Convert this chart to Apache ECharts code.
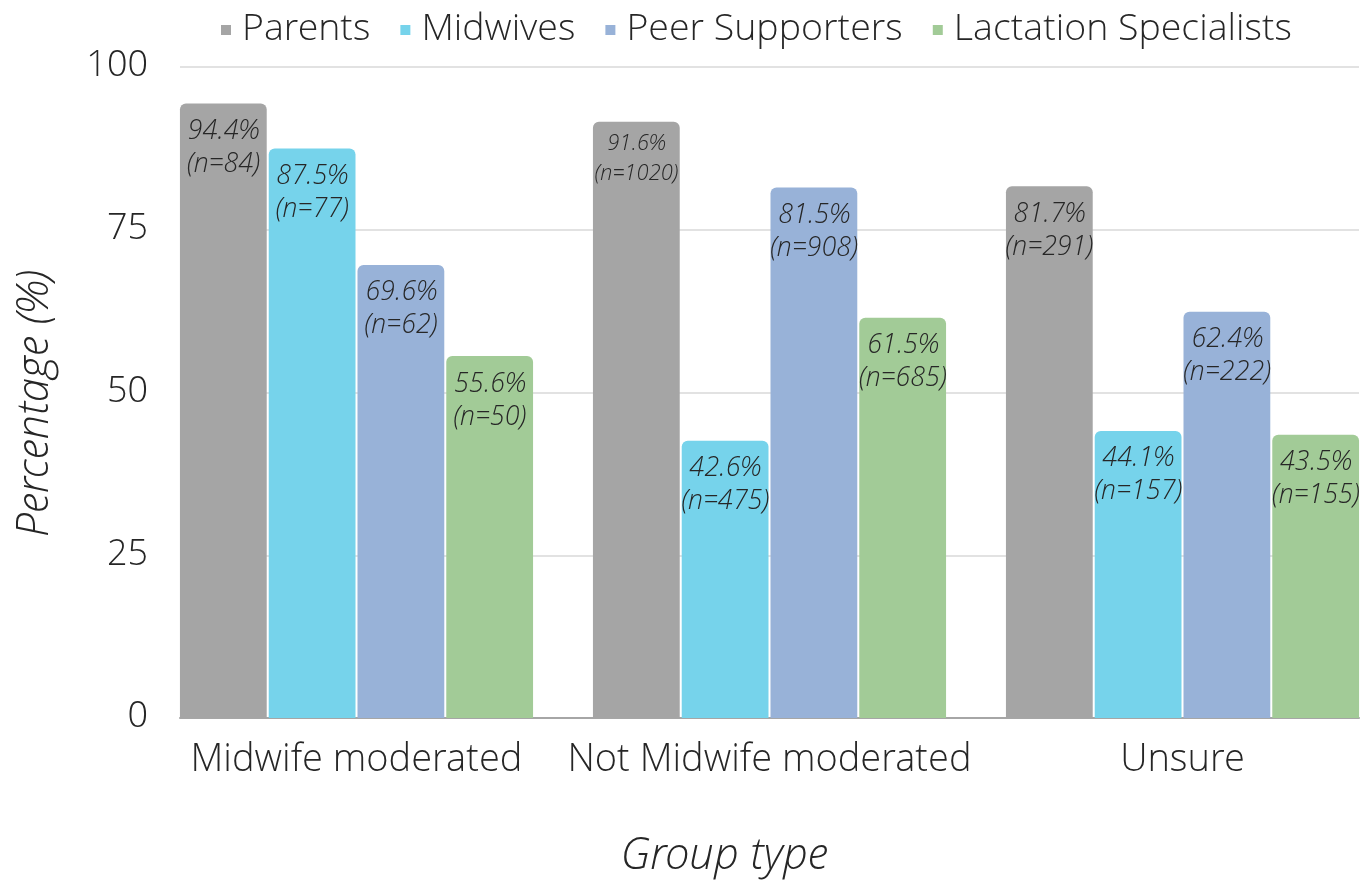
<!DOCTYPE html>
<html>
<head>
<meta charset="utf-8">
<script src="https://cdn.jsdelivr.net/npm/echarts@6/dist/echarts.min.js"></script>
<style>
  html, body { margin: 0; padding: 0; background: #fff; }
  #chart { width: 1367px; height: 883px; }
</style>
</head>
<body>
<div id="chart"></div>
<script>
var groupTypes = ['Midwife moderated', 'Not Midwife moderated', 'Unsure'];
var seriesNames = ['Parents', 'Midwives', 'Peer Supporters', 'Lactation Specialists'];
var seriesColors = ['#a5a5a5', '#76d3eb', '#98b2d8', '#a2cb97'];

// percentages per series, one value per group type
var parentsPct = [94.4, 91.6, 81.7];
var midwivesPct = [87.5, 42.6, 44.1];
var peerPct = [69.6, 81.5, 62.4];
var lactationPct = [55.6, 61.5, 43.5];

// respondent counts shown under the percentages
var parentsN = [84, 1020, 291];
var midwivesN = [77, 475, 157];
var peerN = [62, 908, 222];
var lactationN = [50, 685, 155];

var yTicks = [0, 25, 50, 75, 100];

var pctData = [parentsPct, midwivesPct, peerPct, lactationPct];
var nData = [parentsN, midwivesN, peerN, lactationN];

var font = '"Open Sans Light", "Open Sans", sans-serif';
var textColor = '#262626';

var chartDom = document.getElementById('chart');
var myChart = echarts.init(chartDom);

var series = seriesNames.map(function (name, i) {
  return {
    name: name,
    type: 'bar',
    xAxisIndex: 1,
    yAxisIndex: 1,
    barCategoryGap: '14.5%',
    barGap: '2.3%',
    itemStyle: { color: seriesColors[i], borderRadius: [6, 6, 0, 0] },
    data: pctData[i].map(function (v, j) {
      var n = nData[i][j];
      // long counts get a smaller label so they fit inside the bar
      var small = String(n).length > 3;
      return {
        value: v,
        label: {
          fontSize: small ? 22 : 27,
          lineHeight: small ? 30 : 33,
          distance: small ? 8 : 12
        },
        n: n
      };
    }),
    label: {
      show: true,
      position: 'insideTop',
      distance: 12,
      fontFamily: font,
      fontWeight: 300,
      fontStyle: 'italic',
      color: textColor,
      formatter: function (p) {
        return p.value.toFixed(1) + '%\n(n=' + p.data.n + ')';
      }
    }
  };
});

var option = {
  animation: false,
  textStyle: { fontFamily: font },
  legend: {
    data: seriesNames,
    top: 6,
    left: 216,
    icon: 'rect',
    itemWidth: 10,
    itemHeight: 10,
    itemGap: 30,
    textStyle: {
      fontFamily: font, fontWeight: 300, fontSize: 37.5, color: textColor,
      padding: [0, 0, 0, 6]
    }
  },
  grid: [
    { left: 180, right: 8, top: 67, bottom: 165, outerBoundsMode: 'none' },
    { left: 150, width: 1239, top: 67, bottom: 165, outerBoundsMode: 'none' }
  ],
  xAxis: [
    {
      gridIndex: 0,
      type: 'value',
      min: 0,
      max: 1,
      axisLine: { show: true, lineStyle: { color: '#a6a6a6', width: 2 } },
      axisTick: { show: false },
      axisLabel: { show: false },
      splitLine: { show: false }
    },
    {
      gridIndex: 1,
      type: 'category',
      data: groupTypes,
      axisLine: { show: false },
      axisTick: { show: false },
      axisLabel: {
        interval: 0, margin: 24,
        fontFamily: font, fontWeight: 300, fontSize: 38, color: textColor
      },
      name: 'Group type',
      nameLocation: 'middle',
      nameGap: 118,
      nameTextStyle: {
        fontFamily: font, fontWeight: 300, fontStyle: 'italic', fontSize: 44,
        color: textColor, padding: [0, 91, 0, 0]
      }
    }
  ],
  yAxis: [
    {
      gridIndex: 0,
      type: 'value',
      min: yTicks[0],
      max: yTicks[yTicks.length - 1],
      interval: yTicks[1] - yTicks[0],
      axisLine: { show: false },
      axisTick: { show: false },
      axisLabel: { margin: 32, fontFamily: font, fontWeight: 300, fontSize: 36, color: textColor },
      splitLine: { lineStyle: { color: '#d9d9d9', width: 1.5 } },
      name: 'Percentage (%)',
      nameLocation: 'middle',
      nameGap: 121,
      nameTextStyle: {
        fontFamily: font, fontWeight: 300, fontStyle: 'italic', fontSize: 43.5,
        color: textColor, padding: [0, 22, 0, 0]
      }
    },
    {
      gridIndex: 1,
      type: 'value',
      min: yTicks[0],
      max: yTicks[yTicks.length - 1],
      show: false,
      splitLine: { show: false }
    }
  ],
  series: series
};

option && myChart.setOption(option);
</script>
</body>
</html>
